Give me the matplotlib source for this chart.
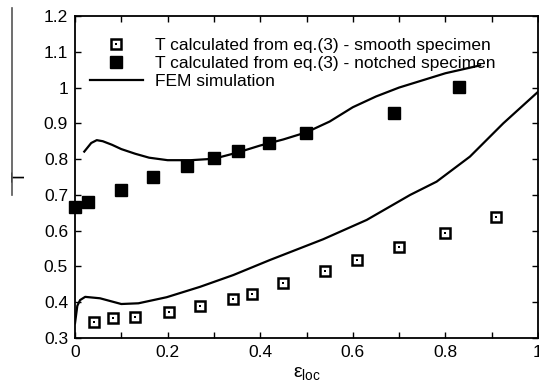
import numpy as np
import matplotlib
matplotlib.use("Agg")
import matplotlib.pyplot as plt
from matplotlib.legend_handler import HandlerTuple
from matplotlib.lines import Line2D

plt.rcParams['font.family'] = ['Liberation Sans', 'DejaVu Sans']
plt.rcParams['mathtext.fontset'] = 'custom'
plt.rcParams['mathtext.rm'] = 'Liberation Sans'
plt.rcParams['mathtext.it'] = 'Liberation Sans:italic'

# smooth specimen, T from eq.(3)
smooth_eps = [0.041, 0.081, 0.13, 0.202, 0.27, 0.341, 0.382, 0.449, 0.54, 0.61, 0.70, 0.80, 0.909]
smooth_T = [0.344, 0.357, 0.36, 0.372, 0.389, 0.409, 0.423, 0.453, 0.487, 0.518, 0.553, 0.593, 0.637]

# notched specimen, T from eq.(3)
notched_eps = [0.0, 0.029, 0.1, 0.169, 0.241, 0.301, 0.351, 0.418, 0.499, 0.69, 0.83]
notched_T = [0.665, 0.68, 0.714, 0.749, 0.781, 0.802, 0.823, 0.846, 0.874, 0.928, 1.002]

# FEM curves
fem_up_eps = [0.02, 0.035, 0.047, 0.06, 0.08, 0.1, 0.13, 0.16, 0.2, 0.25, 0.3, 0.35, 0.4,
              0.45, 0.5, 0.55, 0.6, 0.65, 0.7, 0.75, 0.8, 0.875]
fem_up_T = [0.821, 0.845, 0.853, 0.85, 0.84, 0.828, 0.815, 0.804, 0.797, 0.797, 0.801, 0.818,
            0.838, 0.855, 0.875, 0.905, 0.945, 0.975, 1.0, 1.02, 1.04, 1.062]
fem_lo_eps = [0.0, 0.005, 0.011, 0.022, 0.054, 0.1, 0.137, 0.198, 0.27, 0.342, 0.421, 0.536,
              0.63, 0.724, 0.781, 0.853, 0.925, 1.0]
fem_lo_T = [0.341, 0.39, 0.406, 0.415, 0.411, 0.395, 0.397, 0.414, 0.443, 0.476, 0.518, 0.576,
            0.63, 0.70, 0.737, 0.807, 0.90, 0.988]

fig = plt.figure(figsize=(5.39, 3.86), dpi=100)
ax = fig.add_axes([75/539, 1-338/386, 463/539, 322/386])

fem, = ax.plot(fem_up_eps, fem_up_T, color='black', lw=1.6)
ax.plot(fem_lo_eps, fem_lo_T, color='black', lw=1.6)

sq = ax.plot(smooth_eps, smooth_T, ls='none', marker='s', ms=7.5, mfc='white',
             mec='black', mew=1.8)[0]
dot = ax.plot(smooth_eps, smooth_T, ls='none', marker='s', ms=1.6, mfc='black', mec='black',
              mew=0)[0]
notch = ax.plot(notched_eps, notched_T, ls='none', marker='s', ms=8.5, mfc='black',
                mec='black', clip_on=False)[0]

ax.set_xlim(0, 1)
ax.set_ylim(0.3, 1.2)
ax.set_xticks([0, 0.2, 0.4, 0.6, 0.8, 1])
ax.set_xticklabels(['0', '0.2', '0.4', '0.6', '0.8', '1'])
ax.set_xticks([0.1, 0.3, 0.5, 0.7, 0.9], minor=True)
ax.set_yticks([0.3, 0.4, 0.5, 0.6, 0.7, 0.8, 0.9, 1.0, 1.1, 1.2])
ax.set_yticklabels(['0.3', '0.4', '0.5', '0.6', '0.7', '0.8', '0.9', '1', '1.1', '1.2'])
ax.tick_params(which='both', direction='in', top=True, right=True, labelsize=12.5, length=4,
               width=1)
ax.tick_params(which='major', pad=5)
for s in ax.spines.values():
    s.set_linewidth(1.3)

ax.set_ylabel('T', fontsize=13)
ax.yaxis.set_label_coords(-0.10, 0.5)
ax.set_xlabel(r'$\mathrm{ε}_{\mathrm{loc}}$', fontsize=14)
ax.xaxis.set_label_coords(0.5, -0.085)

# thin grey border line at the left edge of the original figure
fig.add_artist(Line2D([12/539, 12/539], [1-8/386, 1-195/386], color='#555555', lw=1.2))

ax.legend([(sq, dot), notch, fem],
          ['T calculated from eq.(3) - smooth specimen',
           'T calculated from eq.(3) - notched specimen',
           'FEM simulation'],
          handler_map={tuple: HandlerTuple(ndivide=1, pad=0)},
          loc='upper left', bbox_to_anchor=(15/463, 0.932), frameon=False, fontsize=12.5,
          handlelength=3.05, handletextpad=0.7, labelspacing=0.17, borderpad=0,
          borderaxespad=0)

fig.savefig('out.png', dpi=100)
